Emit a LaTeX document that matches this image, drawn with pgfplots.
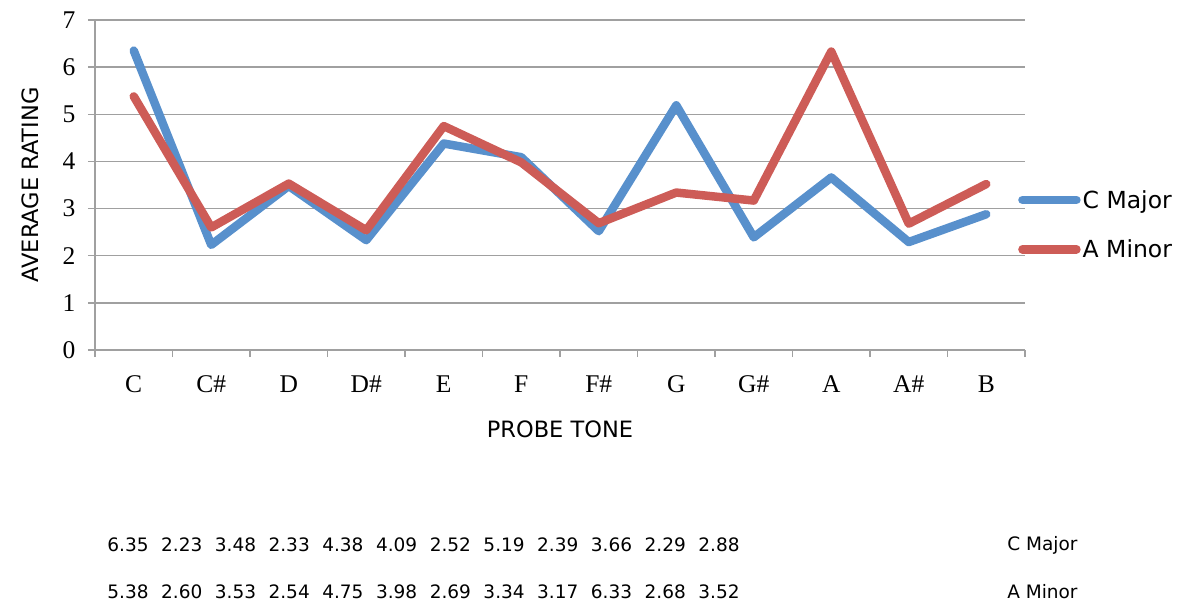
\documentclass[border=0pt]{standalone}
\usepackage{pgfplots}
\pgfplotsset{compat=1.18}
\usepackage{fontspec}
\setmainfont{Liberation Serif}
\newfontfamily\sansf{DejaVu Sans}
\definecolor{cblue}{RGB}{88,144,204}
\definecolor{cred}{RGB}{205,92,87}
\definecolor{gridgray}{RGB}{160,160,160}
\begin{document}
\begin{tikzpicture}
\begin{axis}[
  scale only axis, width=930pt, height=330pt,
  at={(0pt,0pt)}, anchor=south west,
  xmin=-0.5, xmax=11.5, ymin=0, ymax=7,
  axis x line*=bottom, axis y line*=left,
  axis line style={gridgray, line width=1.5pt, -},
  ytick={0,...,7},
  xtick={0,...,11},
  xticklabels={C,C\#,D,D\#,E,F,F\#,G,G\#,A,A\#,B},
  minor xtick={-0.5,0.5,...,11.5},
  major x tick style={draw=none},
  tick align=outside, major tick length=7pt, minor tick length=7pt,
  tick style={gridgray, line width=1.5pt},
  ymajorgrids, grid style={gridgray, line width=1.5pt},
  /pgf/number format/assume math mode=true,
  ticklabel style={font=\fontsize{25.5}{30}\selectfont},
  yticklabel style={xshift=-9pt},
  xticklabel style={yshift=-15pt},
  xlabel={PROBE TONE}, ylabel={AVERAGE RATING},
  label style={font=\sansf\fontsize{22.5}{27}\selectfont},
  xlabel style={yshift=-21pt},
  ylabel style={yshift=17pt},
  legend style={draw=none, fill=none, at={(rel axis cs:1,0.38)}, anchor=west,
    font=\sansf\fontsize{23.5}{28}\selectfont, row sep=26pt, inner sep=0pt, xshift=-7pt},
  legend cell align=left,
  legend image code/.code={\draw[#1, line cap=round] (0pt,0pt) -- (54pt,0pt);},
  clip=false,
]
\addplot[cblue, line width=8.5pt, line join=round, line cap=round] coordinates {
(0,6.35) (1,2.23) (2,3.48) (3,2.33) (4,4.38) (5,4.09) (6,2.52) (7,5.19) (8,2.39) (9,3.66) (10,2.29) (11,2.88)};
\addlegendentry{C Major}
\addplot[cred, line width=8.5pt, line join=round, line cap=round] coordinates {
(0,5.38) (1,2.60) (2,3.53) (3,2.54) (4,4.75) (5,3.98) (6,2.69) (7,3.34) (8,3.17) (9,6.33) (10,2.68) (11,3.52)};
\addlegendentry{A Minor}
\end{axis}
\begin{axis}[
  scale only axis, width=591pt, height=47pt,
  at={(33pt,-242pt)}, anchor=south west,
  xmin=0, xmax=11, ymin=0, ymax=1,
  hide axis, clip=false,
  nodes near coords,
  point meta=explicit,
  every node near coord/.style={anchor=center, font=\sansf\fontsize{18.5}{22}\selectfont, text=black},
  /pgf/number format/.cd, fixed, fixed zerofill, precision=2, assume math mode=true,
]
\addplot[draw=none, mark=none] table[meta=m] {
x y m
0 1 6.35
1 1 2.23
2 1 3.48
3 1 2.33
4 1 4.38
5 1 4.09
6 1 2.52
7 1 5.19
8 1 2.39
9 1 3.66
10 1 2.29
11 1 2.88
};
\addplot[draw=none, mark=none] table[meta=m] {
x y m
0 0 5.38
1 0 2.60
2 0 3.53
3 0 2.54
4 0 4.75
5 0 3.98
6 0 2.69
7 0 3.34
8 0 3.17
9 0 6.33
10 0 2.68
11 0 3.52
};
\node[anchor=west, font=\sansf\fontsize{18.5}{22}\selectfont] at (axis cs:16.3,1) {C Major};
\node[anchor=west, font=\sansf\fontsize{18.5}{22}\selectfont] at (axis cs:16.3,0) {A Minor};
\end{axis}
\pgfresetboundingbox
\path (-95pt,-255pt) rectangle (1083pt,350pt);
\end{tikzpicture}
\end{document}
